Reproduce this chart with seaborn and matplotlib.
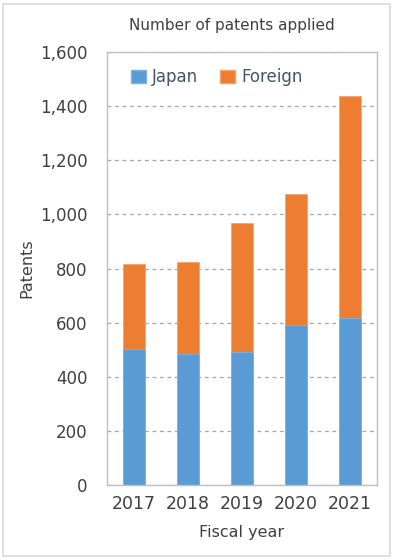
import numpy as np
import pandas as pd
import matplotlib
matplotlib.use('Agg')
import matplotlib.pyplot as plt
import seaborn as sns
from matplotlib.patches import Patch, Rectangle

# ===== DATA =====
years = ['2017', '2018', '2019', '2020', '2021']
japan = [503, 484, 493, 591, 619]
foreign = [312, 341, 474, 485, 820]
y_ticks = [0, 200, 400, 600, 800, 1000, 1200, 1400, 1600]

df = pd.DataFrame({'Year': years, 'Japan': japan, 'Foreign': foreign})
df['Total'] = df['Japan'] + df['Foreign']

BLUE = '#5B9BD5'
ORANGE = '#ED7D31'
TEXT = '#404040'

sns.set_style('white')
plt.rcParams['font.family'] = ['DejaVu Sans']

fig = plt.figure(figsize=(3.93, 5.6), dpi=100)
ax = fig.add_axes([0.2723, 0.1339, 0.687, 0.7732])

# stacked bars: total first (orange), then Japan on top of it (blue)
sns.barplot(data=df, x='Year', y='Total', color=ORANGE, width=0.4,
            saturation=1, edgecolor='#F4A46E', linewidth=0.6, ax=ax)
sns.barplot(data=df, x='Year', y='Japan', color=BLUE, width=0.4,
            saturation=1, edgecolor='#7FB2E0', linewidth=0.6, ax=ax)

ax.set_ylim(0, 1600)
ax.set_yticks(y_ticks)
ax.set_yticklabels([f'{v:,}' for v in y_ticks], fontsize=12, color=TEXT)
ax.tick_params(axis='x', labelsize=12.5, colors=TEXT, length=0, pad=7)
ax.tick_params(axis='y', length=0, pad=14)
ax.yaxis.grid(True, linestyle=(0, (3, 3)), color='#A6A6A6', linewidth=0.9)
ax.set_axisbelow(True)

for side in ['top', 'left', 'right', 'bottom']:
    ax.spines[side].set_color('#BFBFBF')
    ax.spines[side].set_linewidth(1.0)

ax.set_xlabel('Fiscal year', fontsize=11.5, color=TEXT, labelpad=9)
ax.set_ylabel('Patents', fontsize=11.5, color=TEXT, labelpad=4)

fig.text(0.59, 0.955, 'Number of patents applied', ha='center', va='center',
         fontsize=11, color=TEXT)

handles = [Patch(facecolor=BLUE, edgecolor='#7FB2E0', label='Japan'),
           Patch(facecolor=ORANGE, edgecolor='#F4A46E', label='Foreign')]
leg = ax.legend(handles=handles, loc='upper left', bbox_to_anchor=(0.035, 0.997),
                ncol=2, frameon=False, fontsize=12, handlelength=0.9,
                handleheight=0.9, handletextpad=0.35, columnspacing=1.3)
for t in leg.get_texts():
    t.set_color('#44546A')

# outer light border around the whole chart
fig.patches.append(Rectangle((0.008, 0.008), 0.984, 0.984, transform=fig.transFigure,
                             fill=False, edgecolor='#D9D9D9', linewidth=1.2))

plt.savefig('out.png', dpi=100)
